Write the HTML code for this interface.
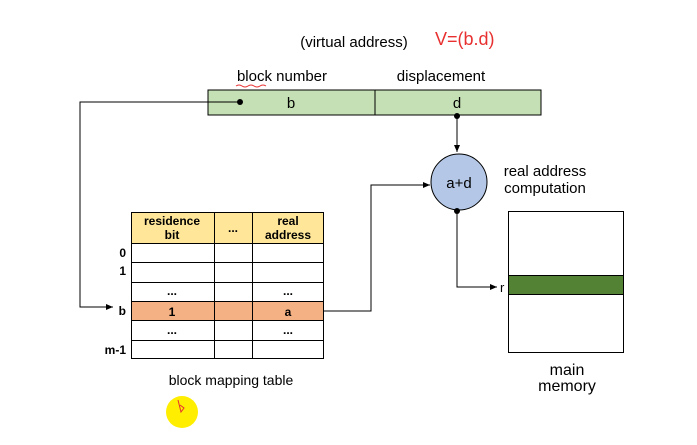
<!DOCTYPE html>
<html><head><meta charset="utf-8"><style>
html,body{margin:0;padding:0;background:#fff;}
svg{display:block;font-family:"Liberation Sans",sans-serif;}
</style></head><body>
<svg width="697" height="445" viewBox="0 0 697 445" xmlns="http://www.w3.org/2000/svg">
<defs><marker id="ar" markerWidth="8" markerHeight="8" refX="7" refY="4" orient="auto" markerUnits="userSpaceOnUse"><path d="M0,1 L7,4 L0,7 z" fill="#000"/></marker></defs>
<rect width="697" height="445" fill="#fff"/>
<text x="354" y="47" font-size="15" text-anchor="middle">(virtual address)</text>
<text x="435" y="45" font-size="18" fill="#e83030">V=(b.d)</text>
<text x="282" y="81" font-size="15" text-anchor="middle">block number</text>
<text x="441" y="81" font-size="15" text-anchor="middle">displacement</text>
<path d="M236,86 q3,-2 6,0 t6,0 t6,0 t6,0 t6,0" stroke="#e83030" fill="none" stroke-width="1"/>
<rect x="208" y="90" width="333" height="25" fill="#c5e0b4" stroke="#000" stroke-width="1"/>
<line x1="375" y1="90" x2="375" y2="115" stroke="#000"/>
<text x="291" y="108" font-size="15" text-anchor="middle">b</text>
<text x="457" y="108" font-size="15" text-anchor="middle">d</text>
<circle cx="240" cy="102" r="3" fill="#000"/>
<polyline points="240,102 80,102 80,307 113,307" fill="none" stroke="#000" marker-end="url(#ar)"/>
<circle cx="457" cy="116" r="3" fill="#000"/>
<line x1="457" y1="116" x2="457" y2="152" stroke="#000" marker-end="url(#ar)"/>
<circle cx="459" cy="182" r="28" fill="#b4c7e7" stroke="#000"/>
<text x="459" y="188" font-size="15" text-anchor="middle">a+d</text>
<text x="545" y="176" font-size="15" text-anchor="middle">real address</text>
<text x="545" y="193" font-size="15" text-anchor="middle">computation</text>
<polyline points="324,311 371,311 371,185 430,185" fill="none" stroke="#000" marker-end="url(#ar)"/>
<circle cx="457" cy="211" r="3" fill="#000"/>
<polyline points="457,211 457,287 497,287" fill="none" stroke="#000" marker-end="url(#ar)"/>
<text x="500" y="292" font-size="13">r</text>
<rect x="508.5" y="211.5" width="115" height="141" fill="#fff" stroke="#000"/>
<rect x="508.5" y="275.5" width="115" height="19" fill="#548235" stroke="#000"/>
<text x="567" y="375" font-size="16" text-anchor="middle">main</text>
<text x="567" y="391" font-size="16" text-anchor="middle">memory</text>
<g font-size="12" font-weight="bold" text-anchor="middle">
<rect x="131.5" y="212.5" width="192" height="31" fill="#ffe699" stroke="#000"/>
<rect x="131.5" y="301.5" width="192" height="19" fill="#f4b183"/>
<g stroke="#000" fill="none">
<rect x="131.5" y="212.5" width="192" height="146"/>
<line x1="214.5" y1="212" x2="214.5" y2="359"/>
<line x1="252.5" y1="212" x2="252.5" y2="359"/>
<line x1="131" y1="243.5" x2="324" y2="243.5"/>
<line x1="131" y1="262.5" x2="324" y2="262.5"/>
<line x1="131" y1="282.5" x2="324" y2="282.5"/>
<line x1="131" y1="301.5" x2="324" y2="301.5"/>
<line x1="131" y1="320.5" x2="324" y2="320.5"/>
<line x1="131" y1="340.5" x2="324" y2="340.5"/>
</g>
<text x="172" y="225">residence</text><text x="172" y="239">bit</text>
<text x="233" y="232">...</text>
<text x="288" y="225">real</text><text x="288" y="239">address</text>
<text x="172" y="295">...</text><text x="288" y="295">...</text>
<text x="172" y="316">1</text><text x="288" y="316">a</text>
<text x="172" y="334">...</text><text x="288" y="334">...</text>
<g text-anchor="end"><text x="126" y="257">0</text><text x="126" y="275">1</text><text x="126" y="315">b</text><text x="126" y="354">m-1</text></g>
</g>
<text x="231" y="385" font-size="14" text-anchor="middle">block mapping table</text>
<circle cx="182" cy="412" r="16" fill="#ffee00"/>
<path d="M178,400 l3,12 l3,-4 l-4,-3" stroke="#e83030" fill="none"/>
</svg>
</body></html>
